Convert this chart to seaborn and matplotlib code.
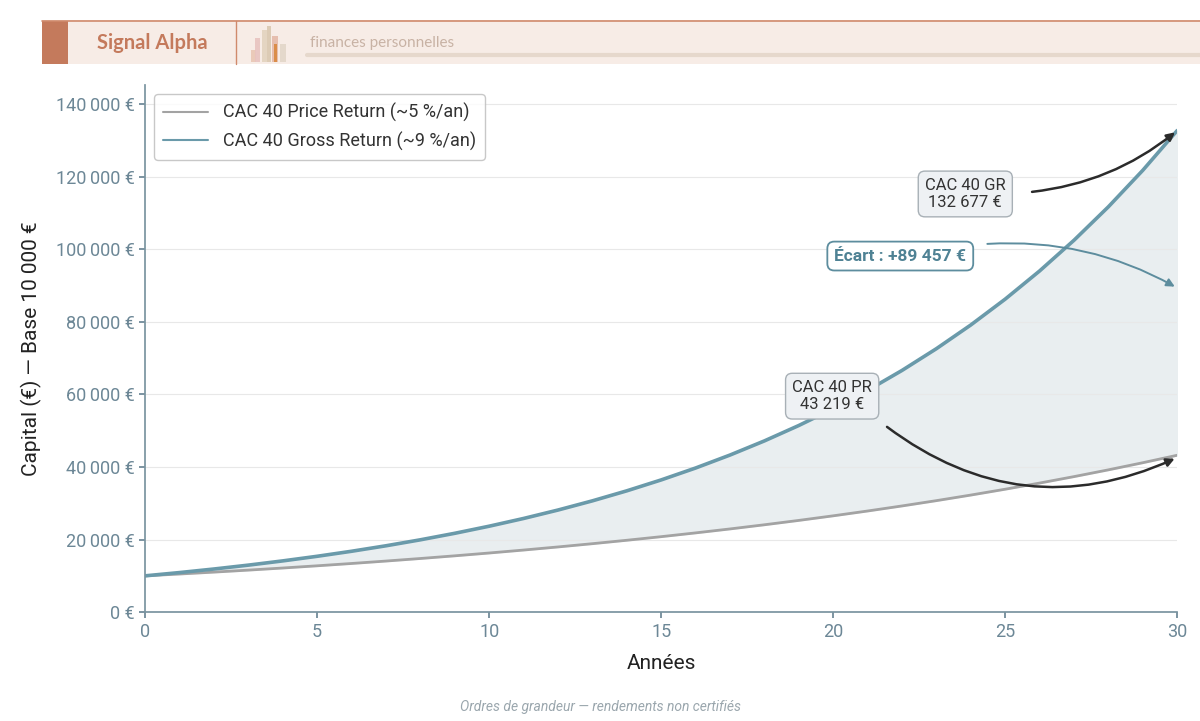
import matplotlib
matplotlib.use("Agg")
import matplotlib.pyplot as plt
import matplotlib.patches as mp
import seaborn as sns
import pandas as pd
from matplotlib.ticker import FuncFormatter

years = list(range(31))
price_return = [10000,10500,11025,11576,12155,12763,13401,14071,14775,15513,16289,17103,17959,18856,19799,20789,21829,22920,24066,25270,26533,27860,29253,30715,32251,33864,35557,37335,39201,41161,43219]
gross_return = [10000,10900,11881,12950,14116,15386,16771,18280,19926,21719,23674,25804,28127,30658,33417,36425,39703,43276,47171,51417,56044,61088,66586,72579,79111,86231,93992,102451,111671,121722,132677]
labels = ["CAC 40 Price Return (~5 %/an)", "CAC 40 Gross Return (~9 %/an)"]

sns.set_theme(style="white")
plt.rcParams['font.family'] = ['Roboto', 'DejaVu Sans']

fig = plt.figure(figsize=(12, 7.21), dpi=100)
ax = fig.add_axes([0.121, 0.151, 0.86, 0.731])

df = pd.DataFrame({"x": years * 2, "y": price_return + gross_return,
                   "s": [labels[0]] * 31 + [labels[1]] * 31})
sns.lineplot(data=df, x="x", y="y", hue="s", palette=["#a3a3a3", "#6a9aaa"], ax=ax)
for l, lw in zip(ax.lines[:2], [2, 2.6]):
    l.set_linewidth(lw)
ax.fill_between(years, price_return, gross_return, color="#e9eef0", zorder=0)

ax.set_xlim(0, 30)
ax.set_ylim(0, 145200)
ax.set_yticks(range(0, 140001, 20000))
ax.set_xticks(range(0, 31, 5))
ax.yaxis.set_major_formatter(FuncFormatter(lambda v, p: f"{int(v):,}".replace(",", "\u202f") + " €" if v else "0 €"))
ax.grid(axis="y", color="#e8e8e8", linewidth=0.8)
for s in ["top", "right"]:
    ax.spines[s].set_visible(False)
for s in ["left", "bottom"]:
    ax.spines[s].set_color("#7a94a0")
ax.tick_params(colors="#6c8796", labelsize=13, left=True, bottom=True, length=4)
ax.set_xlabel("Années", fontsize=15, color="#222", labelpad=10)
ax.set_ylabel("Capital (€) — Base 10 000 €", fontsize=15, color="#222", labelpad=10)

leg = ax.legend(loc="upper left", fontsize=13, frameon=True, borderpad=0.5, handlelength=2.5)
leg.get_frame().set_edgecolor("#bbbbbb")
for t in leg.get_texts():
    t.set_color("#333")
leg.set_title(None)

box = dict(boxstyle="round,pad=0.4", fc="#eef1f4", ec="#a8b0b6")
ax.annotate("", xy=(30, 132677), xytext=(25.7, 115700),
            arrowprops=dict(arrowstyle="-|>", color="#2b2b2b", lw=1.8, connectionstyle="arc3,rad=0.15"))
ax.text(23.84, 115200, "CAC 40 GR\n132 677 €", ha="center", va="center", fontsize=12, color="#333", bbox=box)
ax.annotate("", xy=(30, 89300), xytext=(24.4, 101400),
            arrowprops=dict(arrowstyle="-|>", color="#5d8d9e", lw=1.4, connectionstyle="arc3,rad=-0.15"))
ax.text(21.95, 98100, "Écart : +89 457 €", ha="center", va="center", fontsize=12.5, color="#4f8294",
        fontweight="bold", bbox=dict(boxstyle="round,pad=0.4", fc="white", ec="#5d8d9e", lw=1.3))
ax.annotate("", xy=(30, 42600), xytext=(21.5, 51500),
            arrowprops=dict(arrowstyle="-|>", color="#2b2b2b", lw=1.8, connectionstyle="arc3,rad=0.3"))
ax.text(19.97, 59500, "CAC 40 PR\n43 219 €", ha="center", va="center", fontsize=12, color="#333", bbox=box)

# header band
W, H = 1200, 721
def fx(px): return px / W
def fy(py): return 1 - py / H
fig.patches.append(mp.Rectangle((fx(42), fy(64)), fx(1158), 44 / H, transform=fig.transFigure, fc="#f7ece6", ec="none"))
fig.add_artist(plt.Line2D([fx(42), 1], [fy(21), fy(21)], color="#d08a6c", lw=1.2))
fig.patches.append(mp.Rectangle((fx(42), fy(64)), fx(26), 43 / H, transform=fig.transFigure, fc="#c47a5c", ec="none"))
fig.add_artist(plt.Line2D([fx(236), fx(236)], [fy(64), fy(21)], color="#d08a6c", lw=1))
fig.text(fx(152), fy(43), "Signal Alpha", ha="center", va="center", fontsize=14.5, fontweight="bold",
         color="#c47a5c", family=["Lato", "DejaVu Sans"])
for x0, w, h, c in [(251, 5, 12, "#e9c7b5"), (255, 5, 24, "#e8c3c0"), (262, 5, 32, "#e2d3bf"), (267, 4, 36, "#d9c8b0"),
                    (272, 6, 26, "#e5b9a8"), (274, 3, 18, "#d9883e"), (280, 6, 18, "#e2d6c8")]:
    fig.patches.append(mp.Rectangle((fx(x0), fy(62)), w / W, h / H, transform=fig.transFigure, fc=c, ec="none", alpha=0.9))
fig.text(fx(310), fy(43), "finances personnelles", ha="left", va="center", fontsize=11, color="#c8b2a4",
         family=["Lato", "DejaVu Sans"])
fig.add_artist(plt.Line2D([fx(307), 1], [fy(55), fy(55)], color="#e6d8cc", lw=3))

fig.text(0.5, fy(707), "Ordres de grandeur — rendements non certifiés", ha="center", va="center",
         fontsize=10, style="italic", color="#9aa6ad")

fig.savefig("out.png", dpi=100)
